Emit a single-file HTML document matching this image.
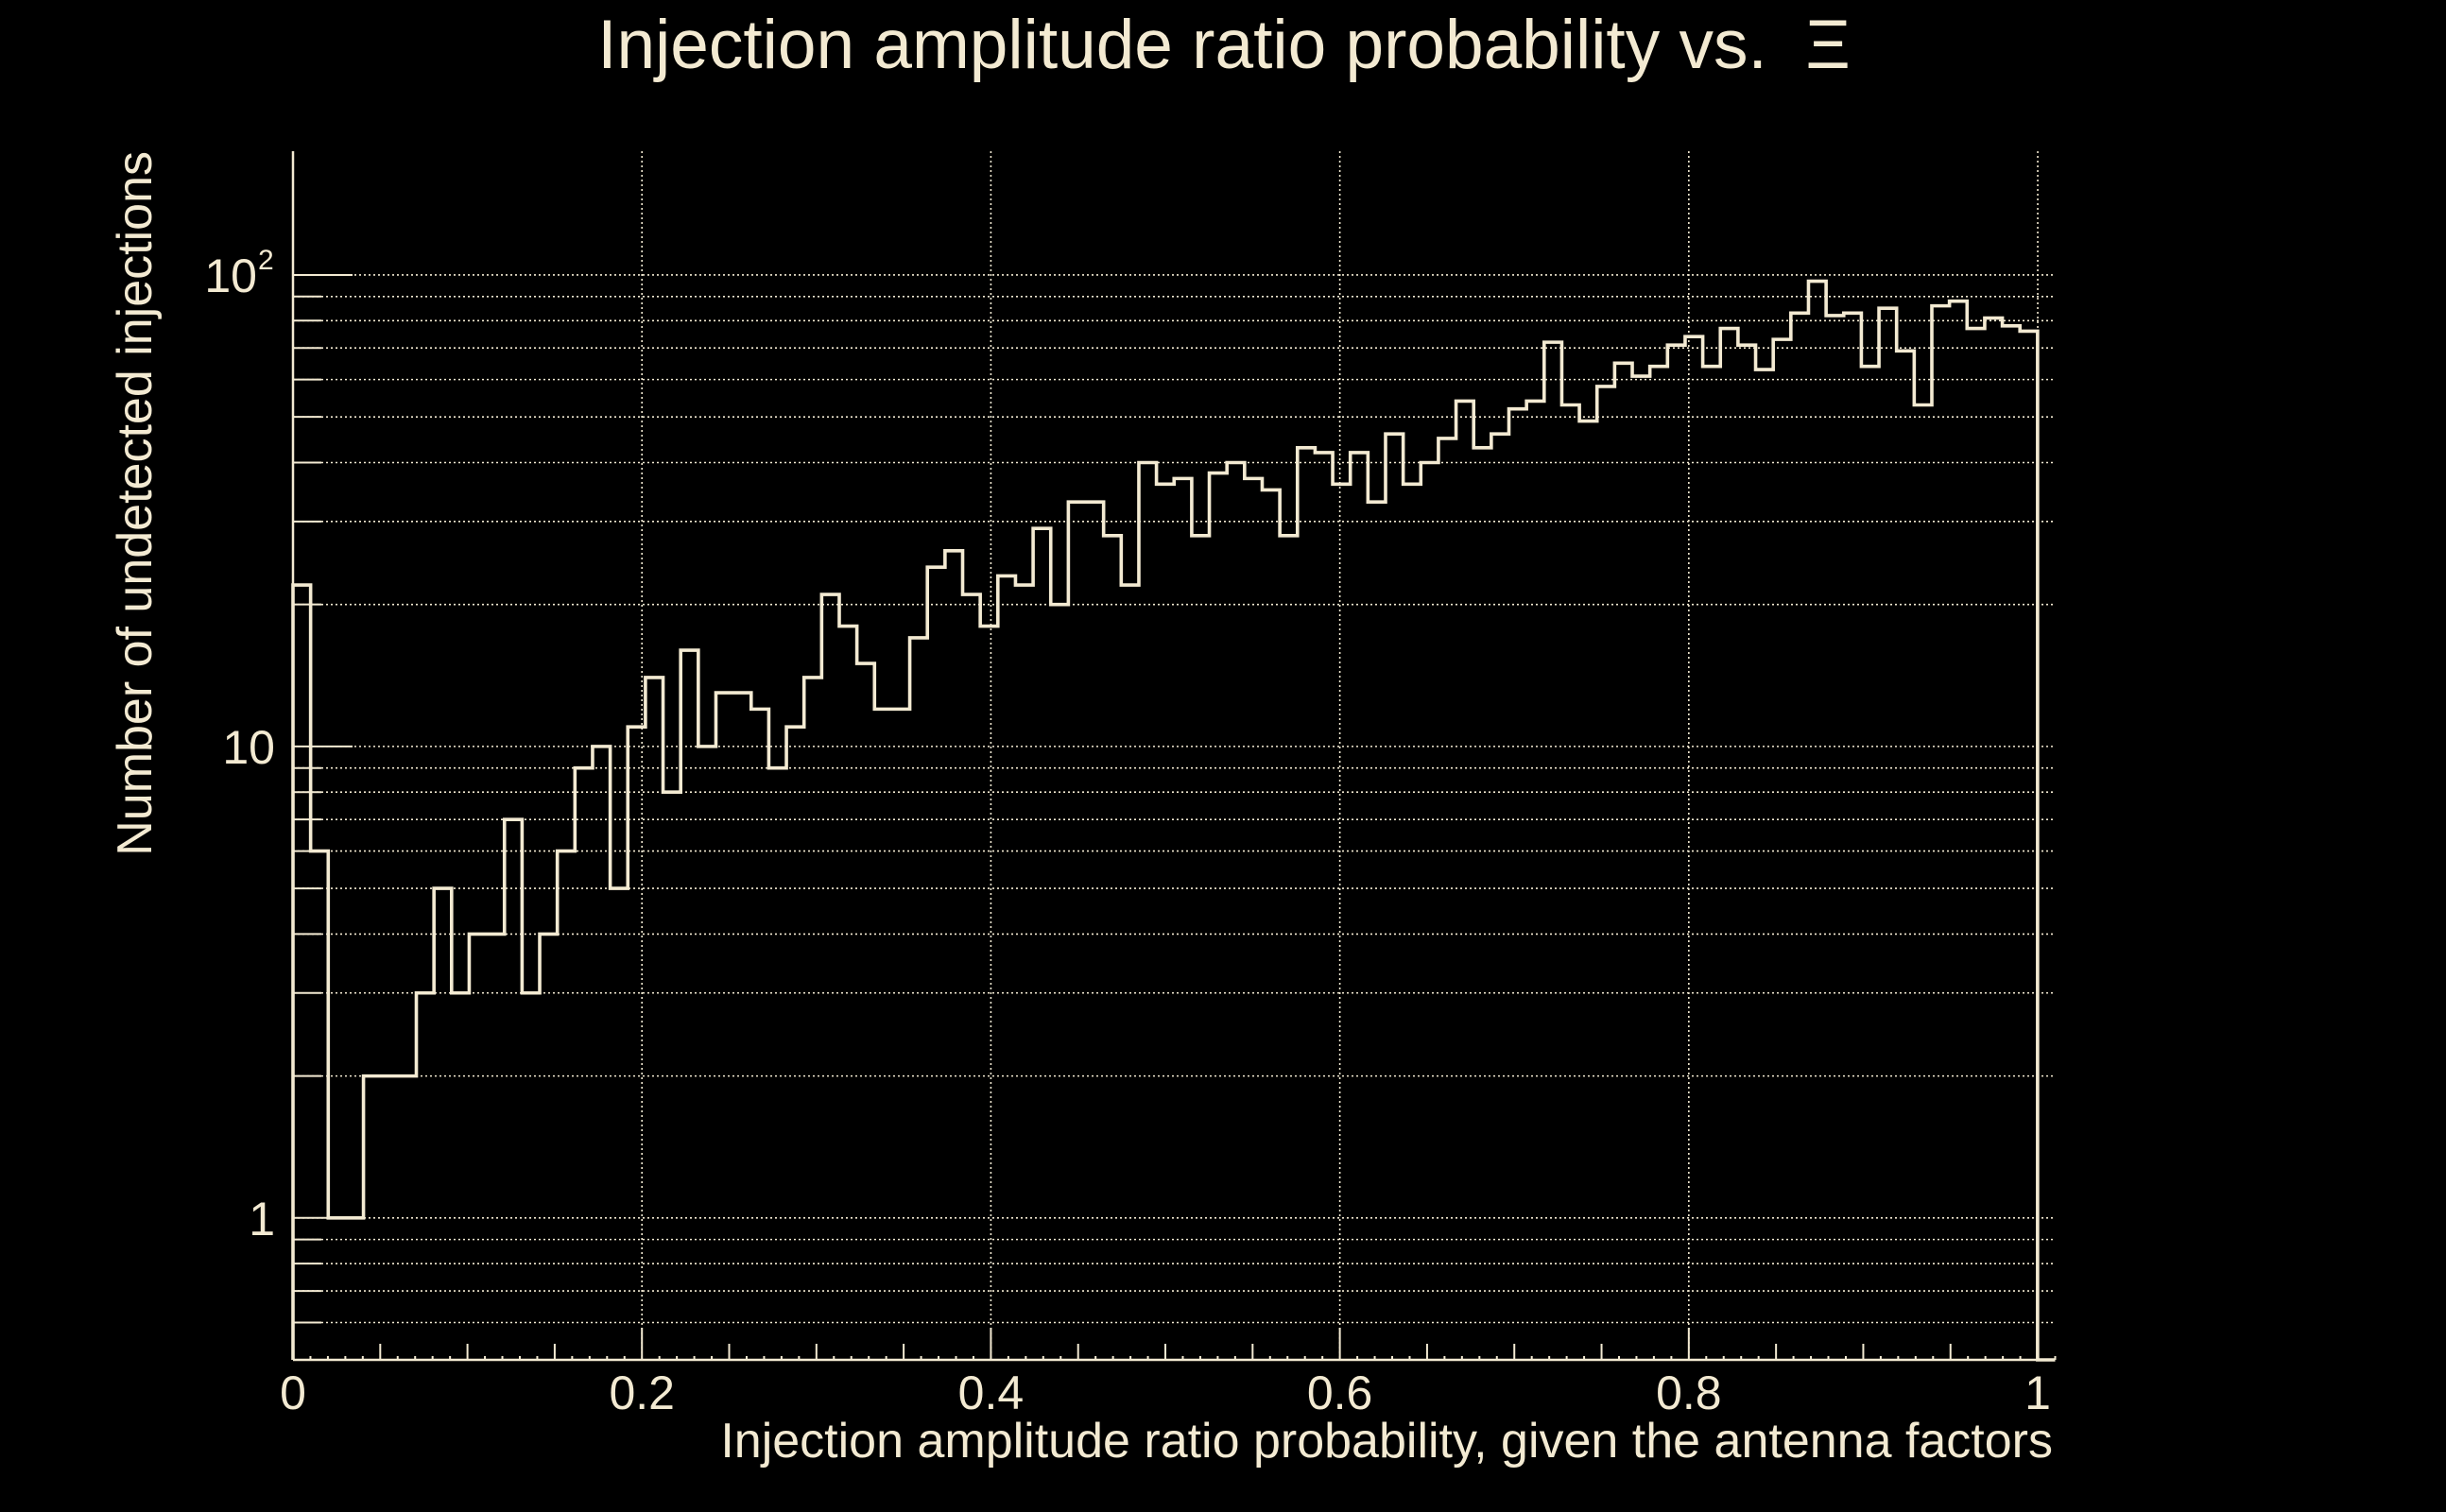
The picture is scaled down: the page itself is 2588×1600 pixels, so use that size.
<!DOCTYPE html>
<html><head><meta charset="utf-8"><style>
html,body{margin:0;padding:0;background:#000;}
svg{display:block;}
text{font-family:"Liberation Sans",sans-serif;fill:#f3ead2;}
</style></head><body>
<svg id="chart" width="2588" height="1600" viewBox="0 0 2588 1600" xmlns="http://www.w3.org/2000/svg">
<rect x="0" y="0" width="2588" height="1600" fill="#000"/>
<text x="1295" y="72" font-size="73" text-anchor="middle" xml:space="preserve">Injection amplitude ratio probability vs.  Ξ</text>
<text x="2172" y="1542" font-size="52" text-anchor="end">Injection amplitude ratio probability, given the antenna factors</text>
<text transform="translate(160,160) rotate(-90)" x="0" y="0" font-size="52" text-anchor="end">Number of undetected injections</text>
<g id="grid"></g>
<g id="axes"></g>
<g id="marks"></g>
</svg>
<script>
const binWidth = 0.0101;
const counts = [22,6,1,1,2,2,2,3,5,3,4,4,7,3,4,6,9,10,5,11,14,8,16,10,13,13,12,9,11,14,21,18,15,12,12,17,24,26,21,18,23,22,29,20,33,33,28,22,40,36,37,28,38,40,37,35,28,43,42,36,42,33,46,36,40,45,54,43,46,52,54,72,53,49,58,65,61,64,71,74,64,77,71,63,73,83,97,82,83,64,85,69,53,86,88,77,81,78,76,0];
const xTickValues = [0,0.2,0.4,0.6,0.8,1];
const xTickLabels = ["0","0.2","0.4","0.6","0.8","1"];
const yMajorValues = [1,10,100];

const NS="http://www.w3.org/2000/svg";
const C="#f3ead2";
const L=310,R=2174.5,T=160,B=1439;
const xMin=0,xMax=1.01,yMin=0.5,yMax=183;
function X(v){return L+(v-xMin)/(xMax-xMin)*(R-L);}
function Y(v){const lv=Math.log10(Math.max(v,yMin));return B-(lv-Math.log10(yMin))/(Math.log10(yMax)-Math.log10(yMin))*(B-T);}
function mk(tag,attrs,parent){const e=document.createElementNS(NS,tag);for(const k in attrs)e.setAttribute(k,attrs[k]);parent.appendChild(e);return e;}
const grid=document.getElementById('grid'),axes=document.getElementById('axes'),marks=document.getElementById('marks');

const yMinor=[];
for(let d=0.1;d<=100;d*=10){for(let m=1;m<=9;m++){const v=+(m*d).toPrecision(3);if(v>=yMin&&v<=yMax)yMinor.push(v);}}
yMinor.forEach(v=>{
  const y=Y(v);
  const g=mk('line',{x1:L,x2:R,y1:y,y2:y,stroke:C,'stroke-width':1.6,'stroke-dasharray':'2 3'},grid);
  
  
  const major=yMajorValues.includes(v);
  const t=mk('line',{x1:L,x2:L+(major?63:30),y1:y,y2:y,stroke:C,'stroke-width':2},axes);
  
  
});
xTickValues.forEach(v=>{
  if(v===0)return;
  const x=X(v);
  const g=mk('line',{x1:x,x2:x,y1:T,y2:B,stroke:C,'stroke-width':1.6,'stroke-dasharray':'2 3'},grid);
  
  
});
for(let i=0;i<=101;i++){
  const v=i/100;const x=X(v);
  let len=4;
  if(i%20===0)len=34;else if(i%5===0)len=17;
  const t=mk('line',{x1:x,x2:x,y1:B,y2:B-len,stroke:C,'stroke-width':2},axes);
  
  
}
const ax=mk('line',{x1:L,x2:R,y1:B,y2:B,stroke:C,'stroke-width':2.5},axes);


const ay=mk('line',{x1:L,x2:L,y1:T,y2:B,stroke:C,'stroke-width':2.5},axes);


xTickValues.forEach((v,i)=>{
  const t=mk('text',{x:X(v),y:1491,'font-size':50,'text-anchor':'middle'},axes);
  t.textContent=xTickLabels[i];
  
  
});
yMajorValues.forEach(v=>{
  const y=Y(v);
  const t=mk('text',{x:(v===100?272:291),y:y+18,'font-size':50,'text-anchor':'end'},axes);
  t.textContent=(v===100?'10':String(v));
  
  
  if(v===100){
    const s=mk('text',{x:273,y:y-6,'font-size':30},axes);
    s.textContent='2';
    
    
  }
});
let d='M'+X(0)+' '+B;
counts.forEach((c,i)=>{
  const y=c>0?Y(c):B;
  d+=' L'+X(i*binWidth)+' '+y+' L'+X((i+1)*binWidth)+' '+y;
});
d+=' L'+X(counts.length*binWidth)+' '+B;
const p=mk('path',{d:d,fill:'none',stroke:C,'stroke-width':3.6,'stroke-linejoin':'miter'},marks);


</script>
</body></html>
